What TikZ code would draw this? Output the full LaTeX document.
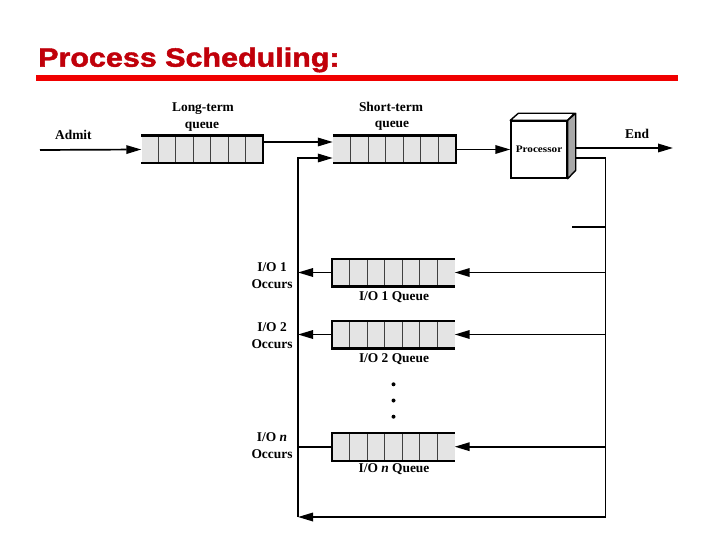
\documentclass[tikz,border=0pt]{standalone}
\usepackage{fontspec}
\setmainfont{Liberation Serif}
\newfontfamily\titlefont{Liberation Sans}[BoldFeatures={FakeBold=1.6}]
\usetikzlibrary{arrows.meta,calc}
\definecolor{titlered}{HTML}{C0000A}
\definecolor{barred}{HTML}{F00000}
\definecolor{qgray}{HTML}{E4E4E4}
\definecolor{sidegray}{HTML}{A8A8A8}
\newcommand{\qdraw}[3]{% name, closed side, open side
  \foreach \i in {1,...,6} {\draw[qcell] ($(#1.north west)!\i/7!(#1.north east)$) -- ($(#1.south west)!\i/7!(#1.south east)$);}
  \draw[qedge] (#1.north #3) -- (#1.north #2) -- (#1.south #2) -- (#1.south #3);
}
\begin{document}
\begin{tikzpicture}[x=1pt,y=-1pt,
  wire/.style={line width=1.7pt},
  arr/.style={wire, -{Triangle[length=15pt,width=8.5pt]}},
  qbox/.style={fill=qgray, draw=none, minimum width=122pt, minimum height=27.5pt, inner sep=0pt},
  qedge/.style={line width=2.1pt},
  qcell/.style={line width=1pt, draw=black!75},
  lbl/.style={font=\fontsize{13.4}{15}\selectfont\bfseries, inner sep=0pt, anchor=base},
]
\useasboundingbox (0,0) rectangle (720,540);
\fill[white] (0,0) rectangle (720,540);

% title
\node[anchor=base west, inner sep=0pt, text=titlered, font=\titlefont\bfseries\fontsize{26.5}{30}\selectfont] (title) at (38,66.7) {\scalebox{1.15}[1]{Process Scheduling:}};
\fill[barred] (36,75) rectangle (678,81);

% queues
\node[qbox, minimum width=121pt] (lt) at (202,149.5) {};
\node[qbox, minimum width=123pt] (st) at (394.5,149.5) {};
\node[qbox] (io1) at (393.5,272.5) {};
\node[qbox] (io2) at (393.5,334.5) {};
\node[qbox] (ion) at (393.5,446.7) {};
\qdraw{lt}{east}{west}
\qdraw{st}{east}{west}
\qdraw{io1}{west}{east}
\qdraw{io2}{west}{east}
\qdraw{ion}{west}{east}

% processor
\node[draw, line width=1.4pt, fill=white, minimum width=56pt, minimum height=57pt, inner sep=0pt,
  font=\fontsize{10}{11}\selectfont\bfseries] (proc) at (539,149.5) {\scalebox{1.12}[1]{Processor}};
\draw[line width=1.4pt, fill=white, line join=round] (proc.north west) -- ++(8,-7) -- ++(56,0) -- (proc.north east) -- cycle;
\draw[line width=1.4pt, fill=sidegray, line join=round] (proc.north east) -- ++(8,-7) -- ++(0,57) -- (proc.south east) -- cycle;

% coordinates
\coordinate (admit) at (40,150);
\coordinate (endpt) at (673,148);
\coordinate (fbtop) at (298,158);
\coordinate (fbbot) at (298,517);
\coordinate (rtop) at (605.5,158);
\coordinate (rbot) at (605.5,517);
\coordinate (stub) at (572,227);

% connectors
\draw[arr] (admit) -- (lt.west);
\draw[arr] ($(lt.east)+(0,-7.5)$) -- ($(st.west)+(0,-7.5)$);
\draw[arr] (fbbot) -- (fbtop) -- ($(st.west)+(0,8.5)$);
\draw[arr] (st.east) -- (proc.west);
\draw[arr] ($(proc.east)+(8,-1.5)$) -- (endpt);
\draw[arr] ($(proc.east)+(8,8.5)$) -- (rtop) -- (rbot) -- (fbbot);
\draw[wire] (stub) -- (rtop |- stub);
\draw[arr] (rtop |- io1.east) -- (io1.east);
\draw[arr] (rtop |- io2.east) -- (io2.east);
\draw[arr] (rtop |- ion.east) -- (ion.east);
\draw[arr] (io1.west) -- (fbtop |- io1.west);
\draw[arr] (io2.west) -- (fbtop |- io2.west);
\draw[wire] (ion.west) -- (fbtop |- ion.west);

% labels
\node[lbl, anchor=base west] (ladmit) at (55,139.5) {Admit};
\node[lbl] (llong) at (203,111.7) {Long-term};
\node[lbl] (lltq) at (202,128.3) {queue};
\node[lbl] (lshort) at (391,111.7) {Short-term};
\node[lbl] (lstq) at (392,128) {queue};
\node[lbl, anchor=base west] (lend) at (625,138.3) {End};

\node[lbl] (lio1) at (272,271) {I/O 1};
\node[lbl] (loc1) at (272,288) {Occurs};
\node[lbl] (lq1) at (394,300) {I/O 1 Queue};
\node[lbl] (lio2) at (272,331) {I/O 2};
\node[lbl] (loc2) at (272,348) {Occurs};
\node[lbl] (lq2) at (394,362) {I/O 2 Queue};
\node[lbl] (lion) at (272,441) {I/O \textit{n}};
\node[lbl] (locn) at (272,458) {Occurs};
\node[lbl] (lqn) at (394,472.7) {I/O \textit{n} Queue};

% dots
\fill (393.5,384.3) circle (2pt);
\fill (393.5,400.5) circle (2pt);
\fill (393.5,416.7) circle (2pt);
\end{tikzpicture}
\end{document}
